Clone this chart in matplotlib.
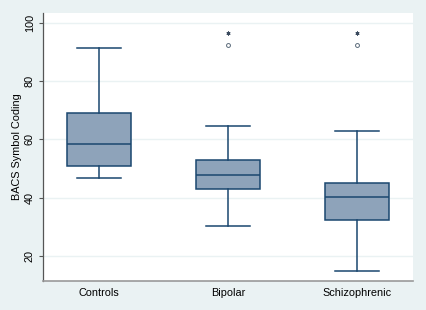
import matplotlib
matplotlib.use("Agg")
import matplotlib.pyplot as plt

groups = ["Controls", "Bipolar", "Schizophrenic"]
whisker_low = [46.9, 30.3, 14.8]
q1 = [51.0, 43.1, 32.4]
median = [58.6, 47.9, 40.3]
q3 = [69.0, 53.1, 45.2]
whisker_high = [91.4, 64.5, 62.8]
# outliers per group
star_outliers = [[], [96.6], [96.6]]
circle_outliers = [[], [92.4], [92.4]]

navy = "#1a476f"
fill = "#8ea3ba"
bg = "#eaf2f3"

plt.rcParams["font.family"] = ["Liberation Sans", "DejaVu Sans"]

fig = plt.figure(figsize=(4.26, 3.10), dpi=100, facecolor=bg)
ax = fig.add_axes([0.101, 0.0935, 0.8685, 0.8645])
ax.set_facecolor("white")

stats = []
for i, g in enumerate(groups):
    stats.append(dict(label=g, whislo=whisker_low[i], q1=q1[i], med=median[i],
                      q3=q3[i], whishi=whisker_high[i], fliers=[]))

pos = [1, 2, 3]
ax.bxp(stats, positions=pos, widths=0.49, patch_artist=True, showfliers=False,
       boxprops=dict(facecolor=fill, edgecolor=navy, linewidth=1.1),
       medianprops=dict(color=navy, linewidth=1.1),
       whiskerprops=dict(color=navy, linewidth=1.1),
       capprops=dict(color=navy, linewidth=1.1),
       capwidths=0.335)

for i in range(3):
    for v in star_outliers[i]:
        ax.plot(pos[i], v, marker=(6, 2, 0), color="#3a4a5e", markersize=2.8,
                markeredgewidth=0.7, linestyle="none")
    for v in circle_outliers[i]:
        ax.plot(pos[i], v, marker="o", markerfacecolor="none", markeredgecolor="#5a6a7a",
                markersize=2.8, markeredgewidth=0.7, linestyle="none")

ax.set_xlim(0.566, 3.434)
ax.set_ylim(11.4, 103.4)
ax.set_yticks([20, 40, 60, 80, 100])
ax.set_yticklabels(["20", "40", "60", "80", "100"], rotation=90, va="center")
ax.yaxis.grid(True, color=bg, linewidth=1.0)
ax.set_axisbelow(True)
ax.tick_params(axis="y", length=3, width=0.8, color="#555555", labelsize=7.8, pad=3)
ax.tick_params(axis="x", length=0, labelsize=7.8, pad=5)
ax.set_ylabel("BACS Symbol Coding", fontsize=7.8, labelpad=2)

for s in ["top", "right"]:
    ax.spines[s].set_visible(False)
ax.spines["left"].set_color("#555555")
ax.spines["left"].set_linewidth(0.9)
ax.spines["bottom"].set_color("#999999")
ax.spines["bottom"].set_linewidth(1.2)

fig.savefig("out.png", dpi=100, facecolor=bg)
